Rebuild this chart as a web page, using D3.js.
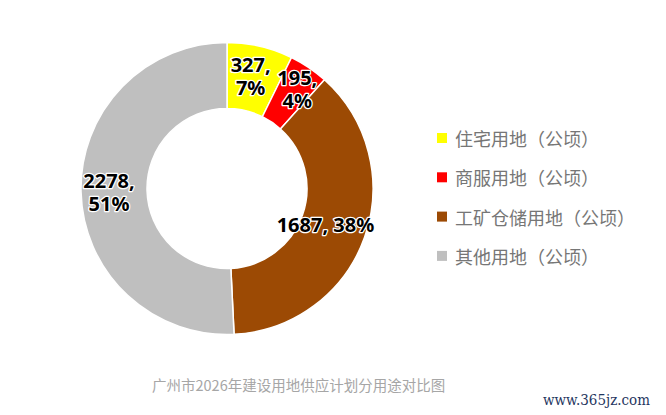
<!DOCTYPE html>
<html>
<head>
<meta charset="utf-8">
<script src="https://cdn.jsdelivr.net/npm/d3@7"></script>
<style>
  html, body { margin: 0; padding: 0; background: #fff; }
</style>
</head>
<body>
<div id="chart"></div>
<script>
// data
const categories = ["住宅用地（公顷）", "商服用地（公顷）", "工矿仓储用地（公顷）", "其他用地（公顷）"];
const values = [327, 195, 1687, 2278];
const wrapLabel = [true, true, false, true];
const caption = "广州市2026年建设用地供应计划分用途对比图";
const watermark = "www.365jz.com";

const colors = ["#ffff00", "#ff0000", "#9c4a04", "#bfbfbf"];
// small label shifts from the arc centroid, like the hand-placed labels in the original
const labelNudge = [[-2, -1], [7, -4], [-8, 0], [-5, 2]];

const width = 666;
const height = 415;
const cx = 227, cy = 188.5;
const outerR = 146, innerR = 80;

const svg = d3.select("#chart")
  .append("svg")
  .attr("width", width)
  .attr("height", height)
  .attr("viewBox", [0, 0, width, height])
  .style("background-color", "#fff");

const total = d3.sum(values);
const fmtPct = d3.format(".0%");

const data = categories.map((c, i) => ({
  name: c,
  value: values[i],
  color: colors[i],
  wrap: wrapLabel[i],
  nudge: labelNudge[i]
}));

const pie = d3.pie().sort(null).value(d => d.value);
const arc = d3.arc().innerRadius(innerR).outerRadius(outerR);
const arcs = pie(data);

const g = svg.append("g").attr("transform", `translate(${cx},${cy})`);

g.selectAll("path")
  .data(arcs)
  .join("path")
  .attr("d", arc)
  .attr("fill", d => d.data.color)
  .attr("stroke", "#fff")
  .attr("stroke-width", 1.5)
  .attr("stroke-linejoin", "round");

// data labels: "value, pct" with white halo
const labels = g.selectAll("text.lbl")
  .data(arcs)
  .join("text")
  .attr("class", "lbl")
  .attr("transform", d => {
    const [x, y] = arc.centroid(d);
    return `translate(${x + d.data.nudge[0]},${y + d.data.nudge[1]})`;
  })
  .attr("text-anchor", "middle")
  .attr("font-family", "'Noto Sans', 'Noto Sans CJK SC', sans-serif")
  .attr("font-weight", "bold")
  .attr("font-size", "20px")
  .attr("fill", "#000")
  .attr("stroke", "#fff")
  .attr("stroke-width", 2.5)
  .attr("stroke-linejoin", "round")
  .attr("paint-order", "stroke");

labels.each(function(d) {
  const t = d3.select(this);
  const v = d.data.value;
  const p = fmtPct(v / total);
  if (d.data.wrap) {
    t.append("tspan").attr("x", 0).attr("y", -11).attr("dominant-baseline", "middle").text(v + ",");
    t.append("tspan").attr("x", 0).attr("y", 12).attr("dominant-baseline", "middle").text(p);
  } else {
    t.append("tspan").attr("x", 0).attr("y", 0).attr("dominant-baseline", "middle").text(v + ", " + p);
  }
});

// legend
const legend = svg.append("g").attr("transform", "translate(437,138)");
const row = legend.selectAll("g")
  .data(data)
  .join("g")
  .attr("transform", (d, i) => `translate(0,${i * 39.3})`);

row.append("rect")
  .attr("x", 0)
  .attr("y", -5)
  .attr("width", 10)
  .attr("height", 10)
  .attr("fill", d => d.color);

row.append("text")
  .attr("x", 18)
  .attr("y", 0)
  .attr("dominant-baseline", "central")
  .attr("font-family", "'Noto Sans CJK SC', sans-serif")
  .attr("font-size", "18px")
  .attr("fill", "#767676")
  .text(d => d.name);

// caption under the chart
svg.append("text")
  .attr("x", 152)
  .attr("y", 384)
  .attr("dominant-baseline", "central")
  .attr("font-family", "'Noto Sans CJK SC', sans-serif")
  .attr("font-size", "14.5px")
  .attr("fill", "#a6a6a6")
  .text(caption);

svg.append("text")
  .attr("x", 543)
  .attr("y", 400)
  .attr("dominant-baseline", "central")
  .attr("font-family", "'DejaVu Serif', serif")
  .attr("font-size", "15px")
  .attr("fill", "#1f3660")
  .attr("textLength", 107)
  .attr("lengthAdjust", "spacingAndGlyphs")
  .text(watermark);
</script>
</body>
</html>
